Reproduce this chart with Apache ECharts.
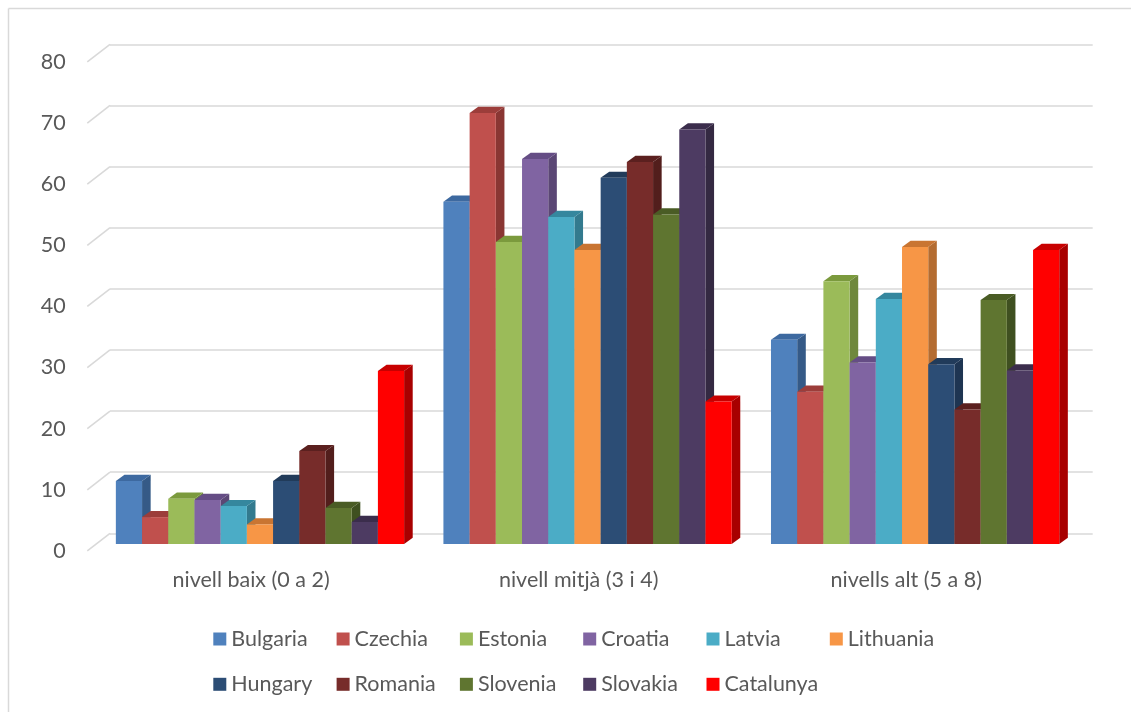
<!DOCTYPE html>
<html><head><meta charset="utf-8">
<script src="https://cdn.jsdelivr.net/npm/echarts@6/dist/echarts.min.js"></script>
<style>html,body{margin:0;padding:0;background:#fff}#c{width:1131px;height:712px}</style>
</head><body><div id="c"></div>
<script>
// ---- data ----
const categories = ['nivell baix (0 a 2)', 'nivell mitjà (3 i 4)', 'nivells alt (5 a 8)'];
const countries = ['Bulgaria','Czechia','Estonia','Croatia','Latvia','Lithuania','Hungary','Romania','Slovenia','Slovakia','Catalunya'];
const bulgaria  = [10.3, 56.0, 33.4];
const czechia   = [4.4, 70.5, 24.9];
const estonia   = [7.4, 49.4, 43.0];
const croatia   = [7.2, 63.0, 29.7];
const latvia    = [6.2, 53.5, 40.1];
const lithuania = [3.2, 48.1, 48.6];
const hungary   = [10.3, 59.9, 29.4];
const romania   = [15.2, 62.5, 22.0];
const slovenia  = [5.9, 53.9, 39.9];
const slovakia  = [3.6, 67.8, 28.4];
const catalunya = [28.3, 23.3, 48.1];
const yTicks = [0, 10, 20, 30, 40, 50, 60, 70, 80];

const seriesValues = [bulgaria, czechia, estonia, croatia, latvia, lithuania, hungary, romania, slovenia, slovakia, catalunya];

// ---- styles ----
const faceColors = [
  ['#4F81BD', '#3D69A0', '#355A87'],
  ['#C0504D', '#9C3D3A', '#8A3633'],
  ['#9BBB59', '#7B9A3D', '#6F883C'],
  ['#8064A2', '#654D85', '#5B4775'],
  ['#4BACC6', '#35879E', '#337A8E'],
  ['#F79646', '#C97532', '#B46C31'],
  ['#2C4D75', '#213B5A', '#1E3552'],
  ['#772C2A', '#5B201F', '#521E1C'],
  ['#5F7530', '#4A5C25', '#3F5020'],
  ['#4D3B62', '#3B2D4C', '#342942'],
  ['#FF0000', '#C80000', '#A80000']
];
const FONT = 'Lato';
const TXT = '#595959';
const FS = 21.5;

const W = 982.7, H = 489;
const back = {left: 110, top: 44.3};
const front = {left: 87.3, top: 61.9};
const mid = {left: 96.2, top: 55.0};
const DX = back.left - front.left, DY = front.top - back.top;
const BDX = 8.6, BDY = 6.2;

const grids = [back, front, mid].map(g => ({left: g.left, top: g.top, width: W, height: H, containLabel: false}));

function yAx(idx, showLabel, showSplit) {
  return {
    type: 'value', gridIndex: idx, min: 0, max: 80, interval: 10,
    axisLine: {show: false}, axisTick: {show: false},
    axisLabel: {show: showLabel, color: TXT, fontFamily: FONT, fontSize: FS, margin: 21.5},
    splitLine: {show: showSplit, lineStyle: {color: '#D9D9D9', width: 1.6}}
  };
}
function xAx(idx, showLabel) {
  return {
    type: 'category', gridIndex: idx, data: categories, boundaryGap: true,
    axisLine: {show: false}, axisTick: {show: false}, splitLine: {show: false},
    axisLabel: {show: showLabel, color: TXT, fontFamily: FONT, fontSize: FS, margin: 18}
  };
}

const series = [];
// diagonal lines on left wall floor
series.push({
  type: 'custom', xAxisIndex: 1, yAxisIndex: 1, silent: true, z: 1,
  data: yTicks.map(v => [0, v]),
  renderItem: function (params, api) {
    const cs = params.coordSys;
    const y = api.coord([0, api.value(1)])[1];
    return {type: 'line', shape: {x1: cs.x, y1: y, x2: cs.x + DX, y2: y - DY},
            style: {stroke: '#D9D9D9', lineWidth: 1.6}};
  }
});

seriesValues.forEach((vals, k) => {
  series.push({
    name: countries[k], type: 'custom', xAxisIndex: 2, yAxisIndex: 2, z: 2,
    itemStyle: {color: faceColors[k][0]},
    data: vals.map((v, i) => [i, v]),
    renderItem: function (params, api) {
      const ci = api.value(0), v = api.value(1);
      const base = api.coord([ci, 0]);
      const top = api.coord([ci, v]);
      const band = api.size([1, 0])[0];
      const bw = band * 0.08;
      const x0 = base[0] + (k - 5.5) * bw, x1 = x0 + bw;
      const yt = top[1], yb = base[1];
      const c = faceColors[k];
      return {
        type: 'group',
        children: [
          {type: 'polygon', shape: {points: [[x1, yt], [x1 + BDX, yt - BDY], [x1 + BDX, yb - BDY], [x1, yb]]}, style: {fill: c[2]}},
          {type: 'polygon', shape: {points: [[x0, yt], [x1, yt], [x1 + BDX, yt - BDY], [x0 + BDX, yt - BDY]]}, style: {fill: c[1]}},
          {type: 'rect', shape: {x: x0, y: yt, width: bw, height: yb - yt}, style: {fill: c[0]}}
        ]
      };
    }
  });
});

const legendBase = {
  orient: 'horizontal', left: 213.3, icon: 'rect', itemWidth: 13, itemHeight: 13, itemGap: 10,
  padding: 0, selectedMode: false,
  textStyle: {color: TXT, fontFamily: FONT, fontSize: FS, width: 95.3, lineHeight: 24, overflow: 'none'}
};

const chart = echarts.init(document.getElementById('c'), null, {renderer: 'canvas'});
chart.setOption({
  backgroundColor: '#fff',
  animation: false,
  grid: grids,
  xAxis: [xAx(0, false), xAx(1, true), xAx(2, false)],
  yAxis: [yAx(0, false, true), yAx(1, true, false), yAx(2, false, false)],
  legend: [
    Object.assign({}, legendBase, {top: 627, data: countries.slice(0, 6)}),
    Object.assign({}, legendBase, {top: 672.3, data: countries.slice(6)})
  ],
  graphic: [
    {type: 'line', shape: {x1: 8.5, y1: 8.5, x2: 8.5, y2: 712}, style: {stroke: '#D9D9D9', lineWidth: 1.5}, silent: true},
    {type: 'line', shape: {x1: 8.5, y1: 8.5, x2: 1131, y2: 8.5}, style: {stroke: '#D9D9D9', lineWidth: 1.5}, silent: true}
  ],
  series: series
});
</script>
</body></html>
